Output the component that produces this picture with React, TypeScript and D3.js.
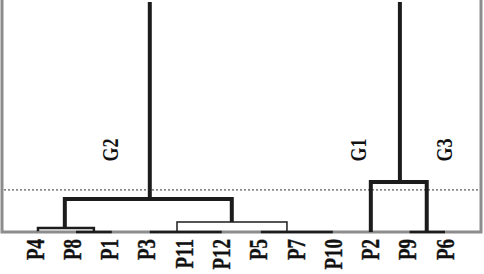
import React from 'react';
import * as d3 from 'd3';

// leaves in display order
const leaves = ['P4', 'P8', 'P1', 'P3', 'P11', 'P12', 'P5', 'P7', 'P10', 'P2', 'P9', 'P6'];

// merges: x positions in leaf-index units, heights in distance units
const brackets = [
  { lo: 0.80, hi: 5.28, h: 14.3, legLo: 1.7, legHi: 4.3, stem: 3.08, weight: 4 },
  { lo: 0.08, hi: 1.58, h: 1.7, legLo: 0.3, legHi: 0.3, stem: null, weight: 2.5 },
  { lo: 3.81, hi: 6.76, h: 4.3, legLo: 0, legHi: 0, stem: null, weight: 1.5 },
  { lo: 9.01, hi: 10.51, h: 21.7, legLo: 0, legHi: 0, stem: 9.79, weight: 4 },
];
// near-zero joins sitting on the baseline
const baseJoins = [[1.10, 2.06], [3.08, 5.01], [6.06, 7.99], [10.05, 11.0]];
const rootHeight = 100;
const cutoff = 18.3;
const groups = [
  { name: 'G2', at: 2.01, h: 35.7 },
  { name: 'G1', at: 8.66, h: 35.7 },
  { name: 'G3', at: 10.97, h: 35.7 },
];

const W = 484, H = 274;
const font = '"Liberation Serif", "Times New Roman", serif';

export default function App() {
  const x = d3.scaleLinear().domain([0, leaves.length - 1]).range([35, 445]);
  const y = d3.scaleLinear().domain([0, rootHeight]).range([232, 2]);
  const ink = '#1c1c1c';
  const frame = '#8c8c8c';

  return (
    <svg width={W} height={H} style={{ position: 'absolute', left: 0, top: 0, background: '#fff' }}>
      {/* frame */}
      <path d={`M2,0V${y(0)}H481V0`} fill="none" stroke={frame} strokeWidth={3} />
      {/* cut-off line */}
      <line x1={4} x2={480} y1={y(cutoff)} y2={y(cutoff)} stroke="#333" strokeWidth={1} strokeDasharray="2,2" />

      {baseJoins.map(([a, b], i) => (
        <line key={'b' + i} x1={x(a)} x2={x(b)} y1={y(0)} y2={y(0)} stroke={ink} strokeWidth={2.5} />
      ))}

      {brackets.map((d, i) => (
        <g key={i} stroke={ink} strokeWidth={d.weight} fill="none">
          <path d={`M${x(d.lo)},${y(d.legLo)}V${y(d.h)}H${x(d.hi)}V${y(d.legHi)}`} />
          {d.stem !== null && <line x1={x(d.stem)} x2={x(d.stem)} y1={y(d.h)} y2={y(rootHeight)} />}
        </g>
      ))}

      {leaves.map((name, i) => (
        <text key={name} transform={`translate(${x(i)},239) scale(1.3,1) rotate(-90)`}
          textAnchor="end" dy="0.35em" fontFamily={font} fontWeight="bold" fontSize={19} fill="#111"
          stroke="#111" strokeWidth={0.3}>
          {name}
        </text>
      ))}

      {groups.map(g => (
        <text key={g.name} transform={`translate(${x(g.at)},${y(g.h)}) scale(1.3,1) rotate(-90)`}
          textAnchor="middle" dy="0.35em" fontFamily={font} fontWeight="bold" fontSize={18} fill="#111">
          {g.name}
        </text>
      ))}
    </svg>
  );
}
